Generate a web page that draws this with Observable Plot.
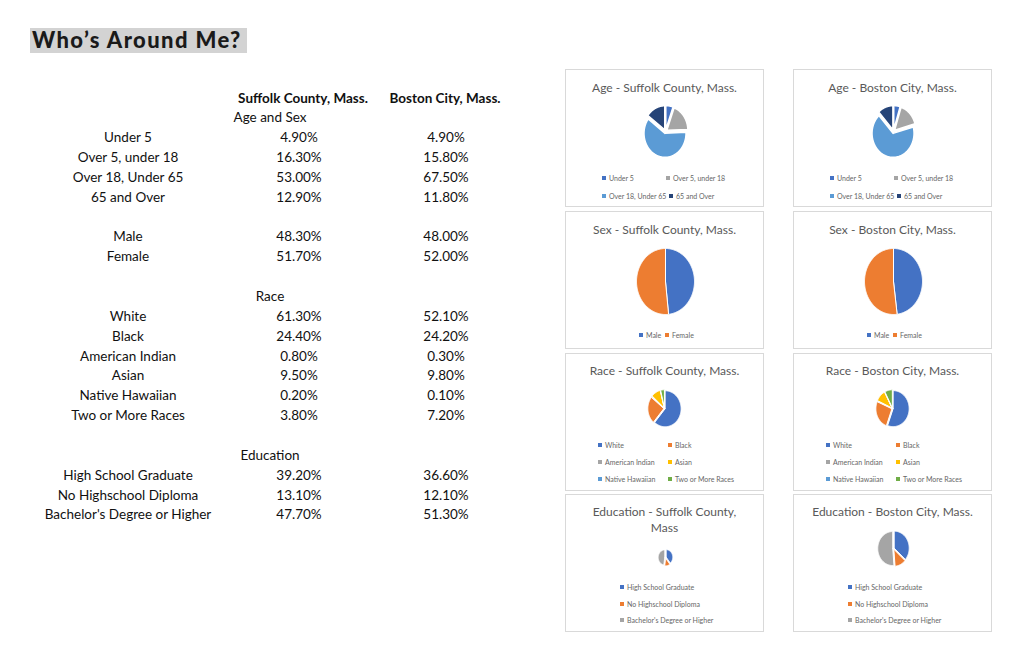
<!DOCTYPE html>
<html>
<head>
<meta charset="utf-8">
<script src="https://cdn.jsdelivr.net/npm/d3@7"></script>
<script src="https://cdn.jsdelivr.net/npm/@observablehq/plot@0.6"></script>
<style>
  html, body { margin: 0; padding: 0; background: #fff; }
  body { width: 1023px; height: 662px; position: relative; overflow: hidden; font-family: Lato, "Open Sans", sans-serif; }
  .abs { position: absolute; white-space: nowrap; }
  .c { transform: translate(-50%, -50%); }
  #title { left: 30px; top: 28px; width: 217px; height: 25px; background: #d3d3d3; }
  #title span { position: absolute; left: 2px; top: -2px; font-family: Lato, sans-serif; font-weight: 900; font-size: 22px; color: #1a1a1a; letter-spacing: 1.4px; }
  .cell { font-size: 13.5px; color: #111; }
  .hdr { font-size: 13.5px; font-weight: bold; color: #111; }
  .panel { position: absolute; width: 199px; height: 138px; border: 1px solid #d9d9d9; box-sizing: border-box; background: #fff; }
  .ptitle { position: absolute; left: 0; width: 197px; text-align: center; font-size: 12px; color: #595959; transform: translate(0, -50%); }
  .leg { position: absolute; font-size: 7px; color: #666; white-space: nowrap; transform: translate(0, -50%); }
  .leg i { display: inline-block; width: 4px; height: 4px; margin-right: 3px; vertical-align: 1px; }
  .plotwrap { position: absolute; left: 0; top: 0; }
</style>
</head>
<body>
<div id="title" class="abs"><span>Who’s Around Me?</span></div>
<div id="table"></div>
<div id="panels"></div>
<script>
// ---------- data ----------
const columnHeaders = ["Suffolk County, Mass.", "Boston City, Mass."];
const ageLabels = ["Under 5", "Over 5, under 18", "Over 18, Under 65", "65 and Over"];
const ageSuffolk = [4.9, 16.3, 53.0, 12.9];
const ageBoston = [4.9, 15.8, 67.5, 11.8];
const sexLabels = ["Male", "Female"];
const sexSuffolk = [48.3, 51.7];
const sexBoston = [48.0, 52.0];
const raceLabels = ["White", "Black", "American Indian", "Asian", "Native Hawaiian", "Two or More Races"];
const raceSuffolk = [61.3, 24.4, 0.8, 9.5, 0.2, 3.8];
const raceBoston = [52.1, 24.2, 0.3, 9.8, 0.1, 7.2];
const eduLabels = ["High School Graduate", "No Highschool Diploma", "Bachelor's Degree or Higher"];
const eduSuffolk = [39.2, 13.1, 47.7];
const eduBoston = [36.6, 12.1, 51.3];

const ageColors = ["#4472C4", "#A5A5A5", "#5B9BD5", "#264478"];
const sexColors = ["#4472C4", "#ED7D31"];
const raceColors = ["#4472C4", "#ED7D31", "#A5A5A5", "#FFC000", "#5B9BD5", "#70AD47"];
const eduColors = ["#4472C4", "#ED7D31", "#A5A5A5"];

// ---------- table ----------
const table = document.getElementById("table");
const X_LABEL = 128, X_SECTION = 270, X_S = 299, X_B = 446, X_HS = 303, X_HB = 445;
const Y0 = 97.5, DY = 19.85;
function put(text, x, y, cls) {
  const d = document.createElement("div");
  d.className = "abs c " + cls;
  d.style.left = x + "px";
  d.style.top = y + "px";
  d.textContent = text;
  table.appendChild(d);
}
const fmt = v => v.toFixed(2) + "%";
let row = 0;
put(columnHeaders[0], X_HS, Y0, "hdr");
put(columnHeaders[1], X_HB, Y0, "hdr");
row = 1;
function section(name) { put(name, X_SECTION, Y0 + row * DY, "cell"); row++; }
function rows(labels, s, b) {
  labels.forEach((lab, i) => {
    const y = Y0 + row * DY;
    put(lab, X_LABEL, y, "cell");
    put(fmt(s[i]), X_S, y, "cell");
    put(fmt(b[i]), X_B, y, "cell");
    row++;
  });
}
section("Age and Sex");
rows(ageLabels, ageSuffolk, ageBoston);
row++;
rows(sexLabels, sexSuffolk, sexBoston);
row++;
section("Race");
rows(raceLabels, raceSuffolk, raceBoston);
row++;
section("Education");
rows(eduLabels, eduSuffolk, eduBoston);

// ---------- pies ----------
function piePlot(values, colors, o) {
  const total = d3.sum(values);
  let a = 0;
  const marks = [];
  values.forEach((v, i) => {
    const a0 = a, a1 = a + v / total * 2 * Math.PI;
    a = a1;
    const mid = (a0 + a1) / 2;
    const ox = o.explode * Math.sin(mid), oy = o.explode * Math.cos(mid);
    const n = Math.max(2, Math.ceil((a1 - a0) / 0.02));
    const pts = [{x: ox, y: oy}];
    for (let k = 0; k <= n; k++) {
      const t = a0 + (a1 - a0) * k / n;
      pts.push({x: ox + Math.sin(t), y: oy + Math.cos(t)});
    }
    pts.push({x: ox, y: oy});
    marks.push(Plot.line(pts, {x: "x", y: "y", fill: colors[i], stroke: "white", strokeWidth: o.sw ?? 1, strokeLinejoin: "round"}));
  });
  return Plot.plot({
    width: 197, height: 136, margin: 0,
    style: {background: "transparent"},
    x: {domain: [-1, 1], range: [o.cx - o.rx, o.cx + o.rx], axis: null},
    y: {domain: [-1, 1], range: [o.cy + o.ry, o.cy - o.ry], axis: null},
    marks
  });
}

const panelsEl = document.getElementById("panels");
function panel(left, top, titleLines, titleYs, labels, values, colors, pie, legend) {
  const p = document.createElement("div");
  p.className = "panel";
  p.style.left = left + "px";
  p.style.top = top + "px";
  titleLines.forEach((t, i) => {
    const d = document.createElement("div");
    d.className = "ptitle";
    d.style.top = titleYs[i] + "px";
    d.textContent = t;
    p.appendChild(d);
  });
  const w = document.createElement("div");
  w.className = "plotwrap";
  w.appendChild(piePlot(values, colors, pie));
  p.appendChild(w);
  labels.forEach((lab, i) => {
    const pos = legend[i];
    const d = document.createElement("div");
    d.className = "leg";
    d.style.left = pos[0] + "px";
    d.style.top = pos[1] + "px";
    const m = document.createElement("i");
    m.style.background = colors[i];
    d.appendChild(m);
    d.appendChild(document.createTextNode(lab));
    p.appendChild(d);
  });
  panelsEl.appendChild(p);
}

const LX = 565, RX = 793;
const ageLeg = [[36, 108], [100, 108], [36, 126], [103, 126]];
const sexLeg = [[73, 123], [99, 123]];
const raceLeg = [[32, 91], [102, 91], [32, 108], [102, 108], [32, 125], [102, 125]];
const eduLeg = [[54, 92], [54, 109], [54, 125]];

panel(LX, 69, ["Age - Suffolk County, Mass."], [17], ageLabels, ageSuffolk, ageColors, {cx: 99, cy: 61, rx: 21, ry: 24, explode: 0.08, sw: 1.5}, ageLeg);
panel(RX, 69, ["Age - Boston City, Mass."], [17], ageLabels, ageBoston, ageColors, {cx: 99, cy: 61, rx: 21, ry: 24, explode: 0.08, sw: 1.5}, ageLeg);
panel(LX, 211, ["Sex - Suffolk County, Mass."], [17], sexLabels, sexSuffolk, sexColors, {cx: 99, cy: 69, rx: 29, ry: 33, explode: 0, sw: 1}, sexLeg);
panel(RX, 211, ["Sex - Boston City, Mass."], [17], sexLabels, sexBoston, sexColors, {cx: 99, cy: 69, rx: 29, ry: 33, explode: 0, sw: 1}, sexLeg);
panel(LX, 353, ["Race - Suffolk County, Mass."], [16], raceLabels, raceSuffolk, raceColors, {cx: 98, cy: 54, rx: 16, ry: 18, explode: 0.04, sw: 1}, raceLeg);
panel(RX, 353, ["Race - Boston City, Mass."], [16], raceLabels, raceBoston, raceColors, {cx: 98, cy: 54, rx: 16, ry: 18, explode: 0.04, sw: 1}, raceLeg);
panel(LX, 494, ["Education - Suffolk County,", "Mass"], [16, 32], eduLabels, eduSuffolk, eduColors, {cx: 99, cy: 62, rx: 6.5, ry: 7.5, explode: 0.12, sw: 0.8}, eduLeg);
panel(RX, 494, ["Education - Boston City, Mass."], [16], eduLabels, eduBoston, eduColors, {cx: 99, cy: 53, rx: 15, ry: 17, explode: 0.05, sw: 1}, eduLeg);
</script>
</body>
</html>
